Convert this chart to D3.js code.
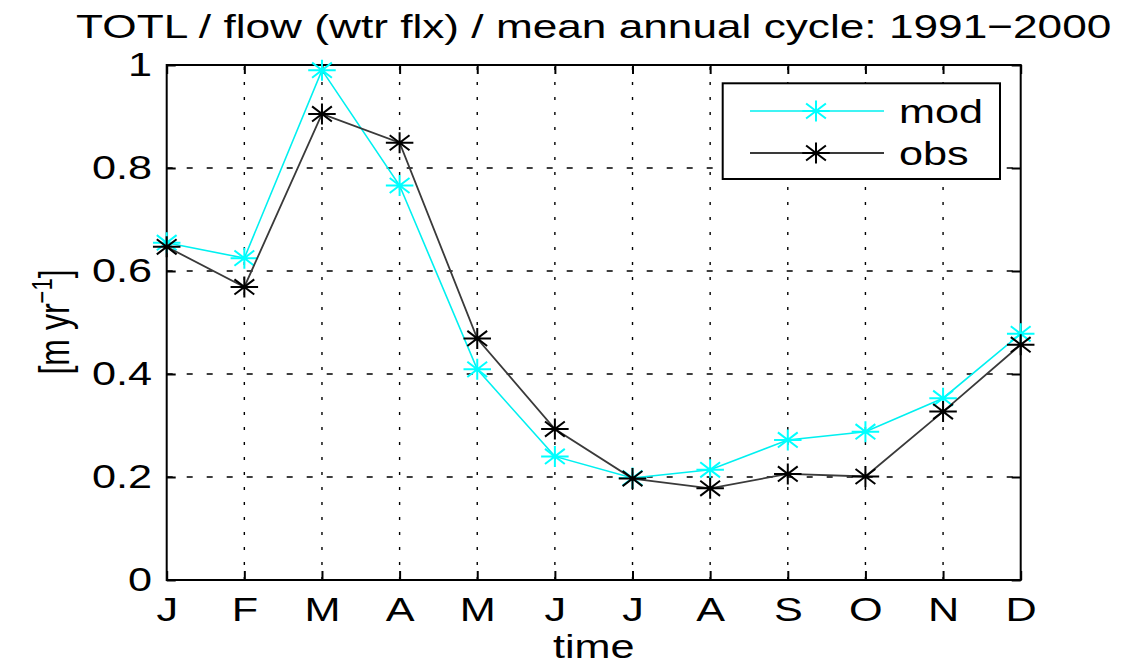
<!DOCTYPE html>
<html>
<head>
<meta charset="utf-8">
<script src="https://cdn.jsdelivr.net/npm/d3@7"></script>
<style>
  html, body { margin: 0; padding: 0; background: #fff; }
  svg { display: block; }
  text { font-family: "Liberation Sans", Arial, Helvetica, sans-serif; fill: #000; }
</style>
</head>
<body>
<svg id="chart" width="1136" height="664"></svg>
<script>
// Mean annual cycle of total flow, 1991–2000
const months = ["J", "F", "M", "A", "M", "J", "J", "A", "S", "O", "N", "D"];
const modValues = [0.655, 0.625, 0.990, 0.766, 0.409, 0.240, 0.198, 0.214, 0.272, 0.288, 0.353, 0.478];
const obsValues = [0.647, 0.569, 0.905, 0.849, 0.469, 0.293, 0.197, 0.178, 0.206, 0.201, 0.327, 0.457];
const yTicks = [0, 0.2, 0.4, 0.6, 0.8, 1];
const seriesNames = ["mod", "obs"];

const W = 1136, H = 664;
const plot = { left: 166.7, right: 1020.7, top: 65, bottom: 580 };
const SX = 1.31;          // horizontal stretch of the lettering
const FS = 33;            // axis / legend font size

const svg = d3.select("#chart");

const x = d3.scaleLinear().domain([0, months.length - 1]).range([plot.left, plot.right]);
const y = d3.scaleLinear().domain([0, 1]).range([plot.bottom, plot.top]);
const idx = d3.range(months.length);

// grid: dotted verticals, dashed horizontals
const grid = svg.append("g").attr("stroke", "#000").attr("stroke-width", 1.4).attr("fill", "none");
grid.selectAll("line.v").data(idx.slice(1, -1)).join("line")
  .attr("x1", d => x(d)).attr("x2", d => x(d))
  .attr("y1", plot.bottom).attr("y2", plot.top)
  .attr("stroke-dasharray", "3,12");
grid.selectAll("line.h").data(yTicks.slice(1, -1)).join("line")
  .attr("x1", plot.left).attr("x2", plot.right)
  .attr("y1", d => y(d)).attr("y2", d => y(d))
  .attr("stroke-dasharray", "6,14");

// axes
const tickLen = 9;
const xAxis = svg.append("g").attr("transform", `translate(0,${plot.bottom})`)
  .call(d3.axisBottom(x).tickValues(idx).tickFormat(i => months[i]).tickSize(-tickLen).tickPadding(18));
const yAxis = svg.append("g").attr("transform", `translate(${plot.left},0)`)
  .call(d3.axisLeft(y).tickValues(yTicks).tickFormat(d3.format("")).tickSize(-tickLen));
svg.append("g").attr("transform", `translate(0,${plot.top})`)
  .call(d3.axisTop(x).tickValues(idx).tickFormat("").tickSize(-tickLen));
svg.append("g").attr("transform", `translate(${plot.right},0)`)
  .call(d3.axisRight(y).tickValues(yTicks).tickFormat("").tickSize(-tickLen));

svg.selectAll(".domain").remove();
svg.selectAll(".tick line").attr("stroke", "#000").attr("stroke-width", 2);
xAxis.selectAll("text").attr("font-size", FS).attr("fill", "#000")
  .attr("transform", `scale(${SX},1)`);
yAxis.selectAll("text").attr("font-size", FS).attr("fill", "#000")
  .attr("x", -14.7 / SX).attr("transform", `scale(${SX},1)`);
svg.selectAll(".tick text").style("font-family", "'Liberation Sans', Arial, sans-serif");

// plot box
svg.append("rect")
  .attr("x", plot.left).attr("y", plot.top)
  .attr("width", plot.right - plot.left).attr("height", plot.bottom - plot.top)
  .attr("fill", "none").attr("stroke", "#000").attr("stroke-width", 2);

// asterisk marker
const mr = 10.5;
function starPath(r) {
  const d = r * 0.72;
  return `M${-r * SX},0H${r * SX}M0,${-r}V${r}` +
         `M${-d * SX},${-d}L${d * SX},${d}M${-d * SX},${d}L${d * SX},${-d}`;
}

const series = [
  { name: seriesNames[0], values: modValues, color: "#00ffff", lineColor: "#00f0f0", lw: 1.6 },
  { name: seriesNames[1], values: obsValues, color: "#000000", lineColor: "#3a3a3a", lw: 1.8 }
];

const line = d3.line().x((d, i) => x(i)).y(d => y(d));
series.forEach(s => {
  svg.append("path").datum(s.values)
    .attr("d", line).attr("fill", "none")
    .attr("stroke", s.lineColor).attr("stroke-width", s.lw);
  svg.append("g").selectAll("path").data(s.values).join("path")
    .attr("transform", (d, i) => `translate(${x(i)},${y(d)})`)
    .attr("d", starPath(mr)).attr("fill", "none")
    .attr("stroke", s.color).attr("stroke-width", 2);
});

// legend
const lg = { x0: 722.7, x1: 1000, y0: 83.3, y1: 179 };
const legend = svg.append("g");
legend.append("rect")
  .attr("x", lg.x0).attr("y", lg.y0).attr("width", lg.x1 - lg.x0).attr("height", lg.y1 - lg.y0)
  .attr("fill", "#fff").attr("stroke", "#000").attr("stroke-width", 2);
const rowY = [111, 153];
series.forEach((s, k) => {
  const g = legend.append("g").attr("transform", `translate(0,${rowY[k]})`);
  g.append("line").attr("x1", 750).attr("x2", 884).attr("y1", 0).attr("y2", 0)
    .attr("stroke", s.lineColor).attr("stroke-width", s.lw);
  g.append("path").attr("transform", "translate(816,0)").attr("d", starPath(mr))
    .attr("fill", "none").attr("stroke", s.color).attr("stroke-width", 2);
  g.append("text").attr("transform", `translate(899,0) scale(${SX},1)`)
    .attr("dy", "0.35em").attr("font-size", FS).text(s.name);
});

// title
svg.append("text")
  .attr("transform", `translate(${(plot.left + plot.right) / 2},37.5) scale(1.3,1)`)
  .attr("text-anchor", "middle").attr("font-size", 34)
  .text("TOTL / flow (wtr flx) / mean annual cycle: 1991\u22122000");

// x label
svg.append("text")
  .attr("transform", `translate(${(plot.left + plot.right) / 2},658) scale(${SX},1)`)
  .attr("text-anchor", "middle").attr("font-size", FS).text("time");

// y label with superscript
const yl = svg.append("text")
  .attr("transform", `translate(69,322) scale(${SX},1) rotate(-90)`)
  .attr("text-anchor", "middle").attr("font-size", 32);
yl.append("tspan").text("[m yr");
yl.append("tspan").attr("font-size", 22).attr("dy", -13).text("\u22121");
yl.append("tspan").attr("dy", 13).text("]");
</script>
</body>
</html>
